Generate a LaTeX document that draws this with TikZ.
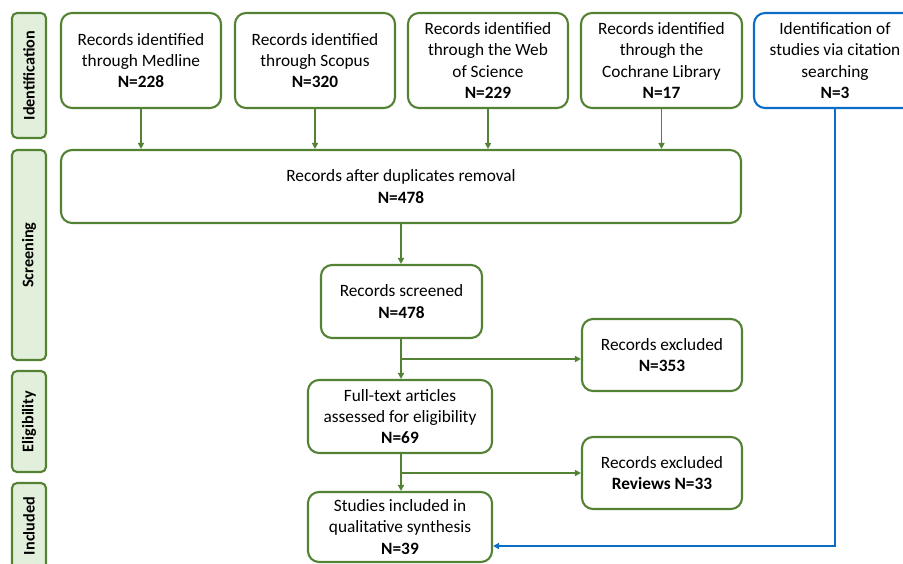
\documentclass[tikz,border=0pt]{standalone}
\usepackage{fontspec}
\setmainfont{Carlito}
\usetikzlibrary{arrows.meta,calc}
\definecolor{pgreen}{RGB}{84,130,53}
\definecolor{pblue}{RGB}{10,110,200}
\definecolor{plight}{RGB}{226,239,218}
\begin{document}
\begin{tikzpicture}[x=1pt,y=-1pt,
  box/.style={draw=pgreen,line width=2.1pt,rounded corners=11pt,align=center,
    font=\fontsize{17.3}{21.3}\selectfont,inner sep=1pt},
  bbox/.style={box,draw=pblue},
  phase/.style={draw=pgreen,fill=plight,line width=2.1pt,rounded corners=5pt,inner sep=0pt},
  ptext/.style={rotate=90,font=\fontsize{16.2}{19}\selectfont\bfseries},
  arr/.style={draw=pgreen,line width=1.8pt,-{Triangle[length=6pt,width=6pt]}},
  barr/.style={draw=pblue,line width=1.8pt,-{Triangle[length=6pt,width=6pt]}}]
\useasboundingbox (0,0) rectangle (903,563);
\clip (0,0) rectangle (903,563);
% phase labels
\node[phase,minimum width=34,minimum height=125] (pid) at (29,75.5) {};
\node[ptext] (pidt) at (pid) {Identification};
\node[phase,minimum width=34,minimum height=210] (psc) at (29,255) {};
\node[ptext] (psct) at (psc) {Screening};
\node[phase,minimum width=34,minimum height=101] (pel) at (29,421.5) {};
\node[ptext] (pelt) at (pel) {Eligibility};
\node[phase,minimum width=34,minimum height=100] (pin) at (29,533) {};
\node[ptext] (pint) at (29,526) {Included};
% top boxes
\node[box,minimum width=160,minimum height=95] (med) at (141,60.5) {Records identified\\through Medline\\\textbf{N=228}};
\node[box,minimum width=160,minimum height=95] (sco) at (315,60.5) {Records identified\\through Scopus\\\textbf{N=320}};
\node[box,minimum width=160,minimum height=95] (wos) at (488,60.5) {Records identified\\through the Web\\of Science\\\textbf{N=229}};
\node[box,minimum width=161,minimum height=95] (coc) at (661.5,60.5) {Records identified\\through the\\Cochrane Library\\\textbf{N=17}};
\node[bbox,minimum width=162,minimum height=95] (cit) at (835,60.5) {Identification of\\studies via citation\\searching\\\textbf{N=3}};
% main flow
\node[box,minimum width=680,minimum height=73] (dup) at (401,186.5) {Records after duplicates removal\\\textbf{N=478}};
\node[box,minimum width=161,minimum height=73] (scr) at (401.5,301.5) {Records screened\\\textbf{N=478}};
\node[box,minimum width=160,minimum height=72] (ex1) at (662,355) {Records excluded\\\textbf{N=353}};
\node[box,minimum width=184,minimum height=73] (ful) at (400,416.5) {Full-text articles\\assessed for eligibility\\\textbf{N=69}};
\node[box,minimum width=160,minimum height=72] (ex2) at (662,473) {Records excluded\\\textbf{Reviews N=33}};
\node[box,minimum width=184,minimum height=70] (inc) at (400,527) {Studies included in\\qualitative synthesis\\\textbf{N=39}};
% connectors
\draw[arr] (med.south) -- (med.south |- dup.north);
\draw[arr] (sco.south) -- (sco.south |- dup.north);
\draw[arr] (wos.south) -- (wos.south |- dup.north);
\draw[arr] (coc.south) -- (coc.south |- dup.north);
\draw[arr] (dup.south) -- (dup.south |- scr.north);
\draw[arr] (dup.south |- scr.south) -- (dup.south |- ful.north);
\coordinate (b1) at (401,359);
\draw[arr] (b1) -- (b1 -| ex1.west);
\draw[arr] (dup.south |- ful.south) -- (dup.south |- inc.north);
\coordinate (b2) at (401,473);
\draw[arr] (b2) -- (ex2.west);
\coordinate (b3) at (835,546);
\draw[barr] (cit.south) -- (b3) -- (b3 -| inc.east);
\end{tikzpicture}
\end{document}
